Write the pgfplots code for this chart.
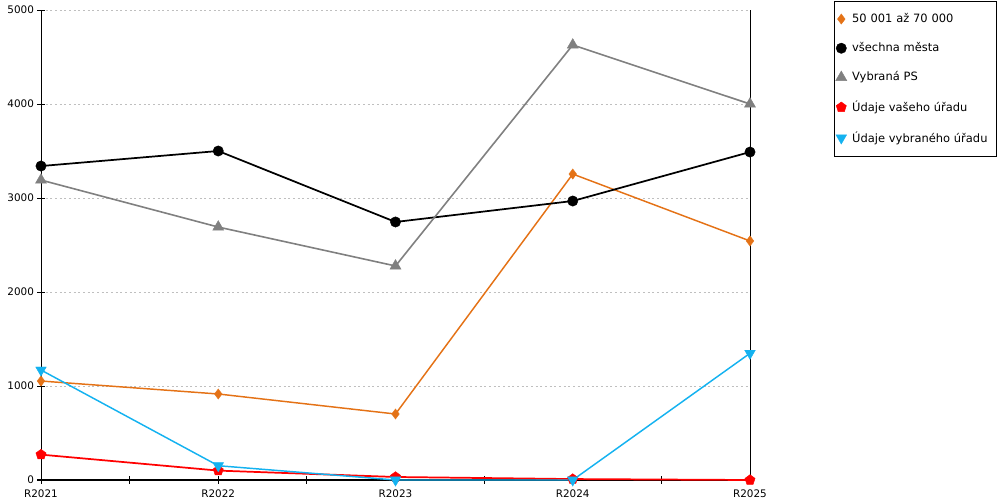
\documentclass[border=0pt]{standalone}
\usepackage{fontspec}
\setmainfont{DejaVu Sans}
\usepackage{pgfplots}
\pgfplotsset{compat=1.18}
\usetikzlibrary{plotmarks}
\definecolor{cOr}{RGB}{228,114,22}
\definecolor{cGr}{RGB}{128,128,128}
\definecolor{cRe}{RGB}{255,0,0}
\definecolor{cBl}{RGB}{20,178,240}
\begin{document}
\begin{tikzpicture}
\useasboundingbox (0,0) rectangle (750pt,375pt);
\begin{axis}[
  at={(30.75pt,15pt)}, anchor=south west,
  scale only axis, width=531.75pt, height=352.5pt,
  xmin=0, xmax=4, ymin=0, ymax=5000,
  axis x line*=bottom, axis y line*=left,
  xtick={0,1,2,3,4}, xticklabels={R2021,R2022,R2023,R2024,R2025},
  minor xtick={0.5,1.5,2.5,3.5},
  ytick={0,1000,2000,3000,4000,5000},
  ymajorgrids, grid style={gray!50, dash pattern=on 1.5pt off 2pt, line width=0.5pt},
  tick style={black, line width=0.75pt},
  major tick length=5.5pt, minor tick length=5.5pt,
  tick align=center,
  axis line style={black, line width=0.75pt},
  ticklabel style={font=\fontsize{7.8}{9}\selectfont},
  /pgf/number format/assume math mode=true,
  /pgf/number format/1000 sep={},
  xticklabel style={yshift=-1pt},
  yticklabel style={xshift=1pt},
  scaled y ticks=false,
  clip=false,
  legend style={at={(1.1185,1.019)}, anchor=north west, draw=black, line width=0.6pt,
    font=\fontsize{8.6}{11}\selectfont, row sep=9.5pt, inner xsep=1pt, inner ysep=7pt,
    /tikz/every odd column/.append style={column sep=2pt},
    /tikz/every even column/.append style={text width=105pt}},
  legend cell align=left,
  legend image code/.code={\draw[#1, line width=0pt, draw=none] plot coordinates {(0.2cm,0cm)};},
]
\addplot[cOr, line width=1.1pt, mark=diamond*, mark size=3.8pt, mark options={solid, fill=cOr, draw=cOr, line width=0.3pt}]
  coordinates {(0,1053) (1,915) (2,702) (3,3255) (4,2543)};
\addlegendentry{50 001 až 70 000}
\addplot[black, line width=1.3pt, mark=*, mark size=3.9pt, mark options={solid, fill=black, line width=0.3pt}]
  coordinates {(0,3340) (1,3500) (2,2745) (3,2968) (4,3489)};
\addlegendentry{všechna města}
\addplot[cGr, line width=1.2pt, mark=triangle*, mark size=4.8pt, mark options={solid, fill=cGr, draw=cGr, line width=0.3pt}]
  coordinates {(0,3191) (1,2691) (2,2277) (3,4628) (4,4000)};
\addlegendentry{Vybraná PS}
\addplot[cRe, line width=1.3pt, mark=pentagon*, mark size=4pt, mark options={solid, fill=cRe, draw=cRe, line width=0.3pt}]
  coordinates {(0,270) (1,100) (2,32) (3,10) (4,0)};
\addlegendentry{Údaje vašeho úřadu}
\addplot[cBl, line width=1.1pt, mark=triangle*, mark size=4.6pt, mark options={solid, fill=cBl, draw=cBl, rotate=180, line width=0.3pt}]
  coordinates {(0,1170) (1,152) (2,0) (3,0) (4,1348)};
\addlegendentry{Údaje vybraného úřadu}
\draw[black, line width=0.75pt] (axis cs:4,0) -- (axis cs:4,5000);
\end{axis}
\end{tikzpicture}
\end{document}
